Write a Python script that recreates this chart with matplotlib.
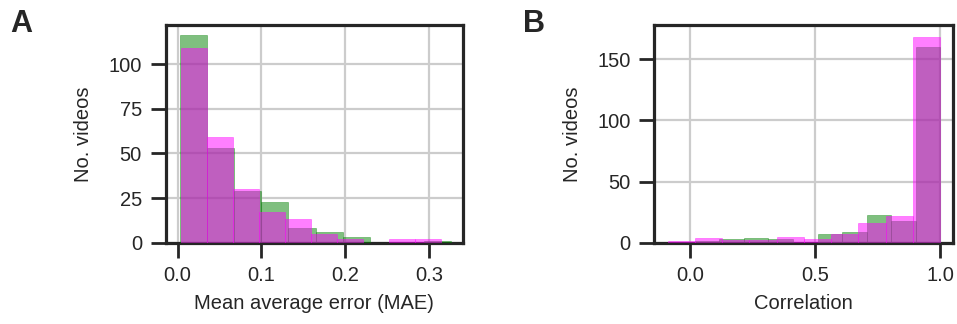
import matplotlib
matplotlib.use("Agg")
import matplotlib.pyplot as plt
import numpy as np

# ---- data ----
# panel A: mean average error histograms (10 bins each)
mae_green_edges = np.linspace(0.0027, 0.327, 11)
mae_green_counts = [116, 53, 29, 23, 8, 6, 3, 0, 0, 1]
mae_magenta_edges = np.linspace(0.0036, 0.314, 11)
mae_magenta_counts = [109, 59, 30, 17, 13, 5, 2, 0, 2, 2]

# panel B: correlation histograms
corr_green_edges = np.linspace(0.02, 1.0, 11)
corr_green_counts = [1, 3, 4, 3, 0, 7, 9, 23, 18, 160]
corr_magenta_edges = np.linspace(-0.0885, 1.0, 11)
corr_magenta_counts = [1, 4, 2, 2, 5, 3, 7, 16, 22, 168]

plt.rcParams["font.family"] = ["Liberation Sans", "DejaVu Sans"]
fs = 14.5
dark = "#262626"

fig = plt.figure(figsize=(9.57, 3.24), dpi=100)
axA = fig.add_axes([0.173, 0.251, 0.311, 0.672])
axB = fig.add_axes([0.6837, 0.251, 0.3118, 0.672])


def draw_hist(ax, edges, counts, color):
    ax.hist(edges[:-1], bins=edges, weights=counts, color=color,
            alpha=0.5, edgecolor=color, linewidth=0.5, zorder=3)


def style(ax):
    ax.grid(True, color="#cccccc", linewidth=1.6, zorder=0)
    ax.set_axisbelow(True)
    for s in ax.spines.values():
        s.set_linewidth(2.3)
        s.set_color(dark)
    ax.tick_params(direction="out", length=11, width=2, color=dark,
                   labelcolor=dark, labelsize=fs, pad=6)
    ax.set_ylabel("No. videos", color=dark, fontsize=fs, labelpad=11)


draw_hist(axA, mae_green_edges, mae_green_counts, "green")
draw_hist(axA, mae_magenta_edges, mae_magenta_counts, "magenta")
style(axA)
axA.set_xlim(-0.0143, 0.341)
axA.set_ylim(0, 121.9)
axA.set_xticks([0.0, 0.1, 0.2, 0.3])
axA.set_yticks([0, 25, 50, 75, 100])
axA.set_xlabel("Mean average error (MAE)", color=dark, fontsize=fs, labelpad=6)

draw_hist(axB, corr_green_edges, corr_green_counts, "green")
draw_hist(axB, corr_magenta_edges, corr_magenta_counts, "magenta")
style(axB)
axB.set_xlim(-0.142, 1.05)
axB.set_ylim(0, 178)
axB.set_xticks([0.0, 0.5, 1.0])
axB.set_yticks([0, 50, 100, 150])
axB.set_xlabel("Correlation", color=dark, fontsize=fs, labelpad=6)

fig.text(0.011, 0.9, "A", fontsize=22, fontweight="bold", color=dark)
fig.text(0.547, 0.9, "B", fontsize=22, fontweight="bold", color=dark)

fig.savefig("out.png", dpi=100)
